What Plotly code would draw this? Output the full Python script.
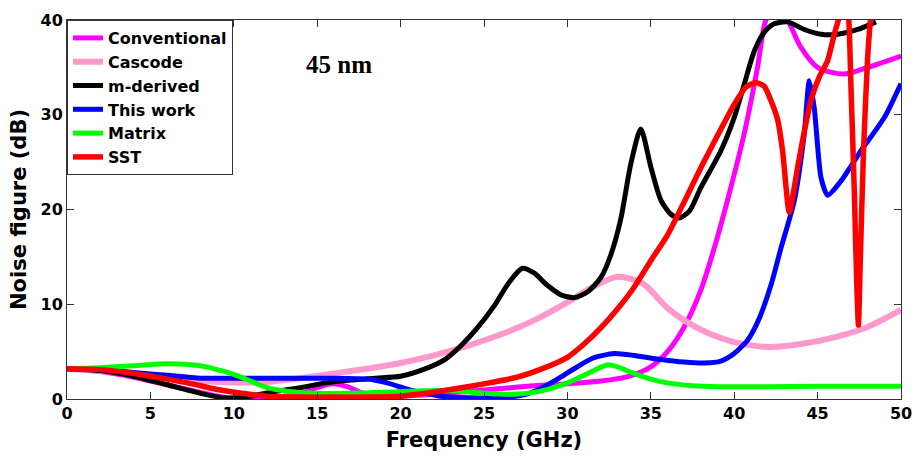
import plotly.graph_objects as go

# ---- data ----
conv_x = [0, 2, 4, 6, 8, 9.5, 11, 12.5, 14, 15, 15.9, 16.8, 17.6, 18.5, 20, 22, 24, 26, 28, 30, 32, 33.5, 35, 36, 37, 38, 38.8, 39.6, 40.6, 41.4, 41.9, 42.5, 43.2, 44, 45, 46.6, 48, 50]
conv_y = [3.2, 2.9, 2.3, 1.5, 0.7, 0.15, 0.05, 0.15, 0.6, 1.2, 1.6, 1.3, 0.7, 0.35, 0.3, 0.5, 0.8, 1.1, 1.4, 1.6, 1.9, 2.3, 3.4, 5.0, 7.6, 11.5, 15.9, 21.0, 28.0, 35.0, 40.0, 41.5, 40.0, 37.1, 35.0, 34.3, 35.0, 36.2]

casc_x = [0, 2, 4, 6, 8, 10, 12, 14, 16, 18, 20, 22, 24, 26, 28, 30, 31.5, 33, 34.5, 36, 37, 38.5, 40, 42, 44, 46, 48, 50]
casc_y = [3.2, 3.0, 2.6, 2.2, 1.9, 1.75, 1.8, 2.2, 2.7, 3.2, 3.8, 4.6, 5.6, 6.8, 8.3, 10.2, 11.8, 12.9, 12.2, 9.6, 8.3, 6.9, 6.0, 5.5, 5.8, 6.5, 7.6, 9.4]

mder_x = [0, 2, 4, 6, 8, 9.5, 11, 12.5, 14, 15.5, 17, 18.5, 20, 21.5, 22.6, 23.6, 24.6, 25.6, 26.5, 27.3, 28.0, 28.8, 29.6, 30.4, 31.2, 32, 32.6, 33.2, 33.8, 34.4, 35.0, 35.6, 36.2, 36.7, 37.3, 38.0, 39.2, 40.0, 40.6, 41.2, 41.8, 42.4, 43.2, 44.2, 45.2, 46.2, 47.4, 48.5]
mder_y = [3.2, 3.0, 2.4, 1.5, 0.6, 0.1, 0.3, 0.8, 1.2, 1.7, 2.0, 2.2, 2.4, 3.2, 4.1, 5.6, 7.5, 9.8, 12.3, 13.8, 13.3, 12.0, 11.0, 10.7, 11.3, 12.8, 15.2, 19.0, 24.8, 28.5, 24.5, 21.0, 19.5, 19.1, 19.8, 22.3, 26.2, 29.7, 33.2, 36.7, 38.7, 39.6, 39.8, 39.0, 38.5, 38.5, 39.0, 39.8]

work_x = [0, 2, 4, 6, 8, 10, 12, 14, 16, 18, 19.2, 20.3, 21.2, 22.2, 23.5, 25, 26.5, 27.5, 28.5, 29.5, 30.5, 31.5, 32.8, 34, 35.5, 37, 38.2, 39.2, 40, 40.8, 41.5, 42.2, 42.8, 43.6, 44.2, 44.5, 44.8, 45.2, 45.6, 46.4, 47.6, 49, 50]
work_y = [3.2, 3.1, 2.8, 2.5, 2.2, 2.2, 2.2, 2.2, 2.2, 2.1, 1.7, 1.1, 0.7, 0.35, 0.15, 0.1, 0.2, 0.5, 1.2, 2.2, 3.3, 4.3, 4.8, 4.6, 4.2, 3.9, 3.8, 4.0, 4.8, 6.2, 8.5, 12.0, 15.9, 20.9, 28.0, 33.6, 30.7, 23.4, 21.5, 23.0, 26.2, 29.7, 33.3]

matr_x = [0, 2, 4, 5.5, 6.7, 8, 9, 10, 11, 12, 13.3, 15, 17, 19, 21, 23, 25, 26.8, 28, 29, 30, 31, 31.8, 32.4, 33, 34, 35, 36, 37.5, 39, 42, 45, 48, 50]
matr_y = [3.2, 3.3, 3.5, 3.7, 3.7, 3.5, 3.1, 2.6, 1.9, 1.2, 0.8, 0.6, 0.6, 0.7, 0.85, 0.9, 0.6, 0.5, 0.7, 1.1, 1.7, 2.5, 3.2, 3.6, 3.4, 2.7, 2.1, 1.7, 1.4, 1.3, 1.3, 1.35, 1.35, 1.35]

sst_x = [0, 2, 4, 6, 7.5, 9, 10.5, 12, 14, 16, 18, 20, 21.5, 23, 25, 27, 28.5, 30, 31, 32, 33, 34, 35, 36, 37, 38, 39, 40, 40.7, 41.3, 41.8, 42.2, 42.6, 42.9, 43.3, 43.6, 43.8, 44.2, 44.6, 45.1, 45.6, 46.0, 46.4, 46.6, 46.85, 47.0, 47.2, 47.35, 47.45, 47.55, 47.75, 48.0, 48.2, 48.5]
sst_y = [3.2, 3.1, 2.7, 2.1, 1.6, 1.0, 0.6, 0.3, 0.2, 0.2, 0.2, 0.3, 0.6, 1.0, 1.6, 2.3, 3.2, 4.4, 5.8, 7.5, 9.5, 11.8, 14.6, 17.3, 20.8, 24.4, 27.8, 31.1, 32.9, 33.4, 33.0, 31.5, 29.5, 26.2, 19.7, 22.3, 24.4, 28.2, 31.5, 34.0, 35.7, 38.5, 41.0, 43.0, 40.5, 33.0, 22.0, 12.0, 7.8, 14.0, 26.0, 36.0, 40.5, 44.0]

series = [
    ("Conventional", conv_x, conv_y, "#FF00FF", 5, 0.8),
    ("Cascode", casc_x, casc_y, "#FF99CC", 6, 0.8),
    ("m-derived", mder_x, mder_y, "#000000", 5, 0.7),
    ("This work", work_x, work_y, "#0000FF", 5, 0.6),
    ("Matrix", matr_x, matr_y, "#00FF00", 5, 0.8),
    ("SST", sst_x, sst_y, "#FF0000", 5.5, 0.6),
]

FONT = "DejaVu Sans, Liberation Sans, Arial, sans-serif"

fig = go.Figure()
for name, xs, ys, col, w, sm in series:
    fig.add_trace(go.Scatter(
        x=xs, y=ys, name=name, mode="lines",
        line=dict(color=col, width=w, shape="spline", smoothing=sm),
    ))

axis_common = dict(
    showgrid=False, zeroline=False, showline=True, linecolor="#333333", linewidth=1,
    mirror="ticks", ticks="inside", ticklen=7, tickcolor="#333333", automargin=False,
    tickfont=dict(family=FONT, size=16, color="#000000", weight="bold"),
)

fig.update_xaxes(range=[0, 50], dtick=5, tick0=0,
                 title=dict(text="Frequency (GHz)", standoff=10,
                            font=dict(family=FONT, size=21, color="#000000", weight="bold")),
                 **axis_common)
fig.update_yaxes(range=[0, 40], dtick=10, tick0=0,
                 title=dict(text="Noise figure (dB)", standoff=8,
                            font=dict(family=FONT, size=21, color="#000000", weight="bold")),
                 **axis_common)

fig.add_annotation(x=16.3, y=35.3, xref="x", yref="y", text="45 nm", showarrow=False,
                   font=dict(family="Liberation Serif, Times New Roman, serif", size=25,
                             color="#000000", weight="bold"))

fig.update_layout(
    width=914, height=459,
    margin=dict(l=67, r=13, t=20, b=60),
    paper_bgcolor="white", plot_bgcolor="white",
    legend=dict(x=0, y=1, xanchor="left", yanchor="top", bgcolor="white",
                bordercolor="#333333", borderwidth=1, itemwidth=30, tracegroupgap=0,
                font=dict(family=FONT, size=16, color="#000000", weight="bold")),
    showlegend=True,
)

fig.write_html("out.html")
